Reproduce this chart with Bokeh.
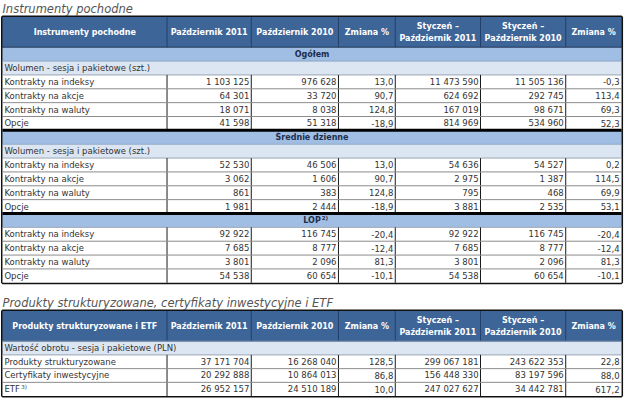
from bokeh.plotting import figure
from bokeh.models import Range1d, ColumnDataSource
from bokeh.core.properties import value
from bokeh.embed import file_html
from bokeh.resources import INLINE

# ---------------- data ----------------
title1 = "Instrumenty pochodne"
title2 = "Produkty strukturyzowane, certyfikaty inwestycyjne i ETF"
col_headers = ["Październik 2011", "Październik 2010", "Zmiana %",
               "Styczeń –\nPaździernik 2011", "Styczeń –\nPaździernik 2010", "Zmiana %"]
first_header1 = "Instrumenty pochodne"
first_header2 = "Produkty strukturyzowane i ETF"

sections = ["Ogółem", "Średnie dzienne", "LOP"]
section_notes = ["", "", "2)"]
sub_volume = "Wolumen - sesja i pakietowe (szt.)"
sub_value = "Wartość obrotu - sesja i pakietowe (PLN)"
instruments = ["Kontrakty na indeksy", "Kontrakty na akcje", "Kontrakty na waluty", "Opcje"]

ogolem_oct2011 = [1103125, 64301, 18071, 41598]
ogolem_oct2010 = [976628, 33720, 8038, 51318]
ogolem_chg = [13.0, 90.7, 124.8, -18.9]
ogolem_ytd2011 = [11473590, 624692, 167019, 814969]
ogolem_ytd2010 = [11505136, 292745, 98671, 534960]
ogolem_ytd_chg = [-0.3, 113.4, 69.3, 52.3]

srednie_oct2011 = [52530, 3062, 861, 1981]
srednie_oct2010 = [46506, 1606, 383, 2444]
srednie_chg = [13.0, 90.7, 124.8, -18.9]
srednie_ytd2011 = [54636, 2975, 795, 3881]
srednie_ytd2010 = [54527, 1387, 468, 2535]
srednie_ytd_chg = [0.2, 114.5, 69.9, 53.1]

lop_oct2011 = [92922, 7685, 3801, 54538]
lop_oct2010 = [116745, 8777, 2096, 60654]
lop_chg = [-20.4, -12.4, 81.3, -10.1]
lop_ytd2011 = [92922, 7685, 3801, 54538]
lop_ytd2010 = [116745, 8777, 2096, 60654]
lop_ytd_chg = [-20.4, -12.4, 81.3, -10.1]

products = ["Produkty strukturyzowane", "Certyfikaty inwestycyjne", "ETF"]
product_notes = ["", "", "3)"]
prod_oct2011 = [37171704, 20292888, 26952157]
prod_oct2010 = [16268040, 10864013, 24510189]
prod_chg = [128.5, 86.8, 10.0]
prod_ytd2011 = [299067181, 156448330, 247027627]
prod_ytd2010 = [243622353, 83197596, 34442781]
prod_ytd_chg = [22.8, 88.0, 617.2]


def fmt_int(v):
    return f"{v:,}".replace(",", " ")


def fmt_pct(v):
    return f"{v:.1f}".replace(".", ",")


def data_rows(labels, notes, a, b, c, d, e, f):
    out = []
    for i, lab in enumerate(labels):
        out.append(("data", lab, notes[i], [fmt_int(a[i]), fmt_int(b[i]), fmt_pct(c[i]),
                                            fmt_int(d[i]), fmt_int(e[i]), fmt_pct(f[i])]))
    return out


no_notes = ["", "", "", ""]
table1_rows = ([("section", sections[0], section_notes[0], None), ("sub", sub_volume, "", None)]
               + data_rows(instruments, no_notes, ogolem_oct2011, ogolem_oct2010, ogolem_chg,
                           ogolem_ytd2011, ogolem_ytd2010, ogolem_ytd_chg)
               + [("section", sections[1], section_notes[1], None), ("sub", sub_volume, "", None)]
               + data_rows(instruments, no_notes, srednie_oct2011, srednie_oct2010, srednie_chg,
                           srednie_ytd2011, srednie_ytd2010, srednie_ytd_chg)
               + [("section", sections[2], section_notes[2], None)]
               + data_rows(instruments, no_notes, lop_oct2011, lop_oct2010, lop_chg,
                           lop_ytd2011, lop_ytd2010, lop_ytd_chg))

table2_rows = ([("sub", sub_value, "", None)]
               + data_rows(products, product_notes, prod_oct2011, prod_oct2010, prod_chg,
                           prod_ytd2011, prod_ytd2010, prod_ytd_chg))

# ---------------- styling / layout ----------------
COL = [4, 172, 258, 347, 405, 492, 579, 636]
HEADER_BG = "#3e6598"
HEADER_SEP = "#22406b"
SECTION_BG = "#a0bee3"
SUB_BG = "#dce6f2"
TEXT = "#333333"
SECTION_TEXT = "#1c2d4d"
FONT = value("DejaVu Sans")
FS = "8.5px"
HFS = "8px"

p = figure(width=624, height=402, x_range=Range1d(2, 639), y_range=Range1d(414, 1),
           output_backend="svg", toolbar_location=None, min_border=0)
p.axis.visible = False
p.grid.visible = False
p.outline_line_color = None
p.background_fill_color = "white"

quads = dict(left=[], right=[], top=[], bottom=[], color=[])
segs = {}
texts = {}


def add_seg(x0, y0, x1, y1, color, width):
    d = segs.setdefault((color, width), dict(x0=[], y0=[], x1=[], y1=[]))
    d["x0"].append(x0); d["y0"].append(y0); d["x1"].append(x1); d["y1"].append(y1)


def add_text(x, y, t, key):
    d = texts.setdefault(key, dict(x=[], y=[], text=[]))
    d["x"].append(x); d["y"].append(y); d["text"].append(t)


def add_quad(l, r, t, b, c):
    quads["left"].append(l); quads["right"].append(r)
    quads["top"].append(t); quads["bottom"].append(b); quads["color"].append(c)


def draw_table(top, header_h, rows, pitch, first_header):
    hb = top + header_h
    bottom = hb + pitch * len(rows)
    add_quad(COL[0], COL[-1], top, hb, HEADER_BG)
    for x in COL[1:-1]:
        add_seg(x, top, x, hb, HEADER_SEP, 1)
    hc = (top + hb) / 2
    add_text((COL[0] + COL[1]) / 2, hc, first_header, "head")
    for j, h in enumerate(col_headers):
        xc = (COL[j + 1] + COL[j + 2]) / 2
        parts = h.split("\n")
        if len(parts) == 1:
            add_text(xc, hc, parts[0], "head")
        else:
            add_text(xc, hc - 6.2, parts[0], "head")
            add_text(xc, hc + 6.2, parts[1], "head")
    add_seg(COL[0], hb, COL[-1], hb, "#1f3558", 1)
    prev = "header"
    for i, (kind, label, note, vals) in enumerate(rows):
        y0 = hb + i * pitch
        y1 = y0 + pitch
        yc = (y0 + y1) / 2
        if kind == "section":
            add_quad(COL[0], COL[-1], y0, y1, SECTION_BG)
            xc = (COL[0] + COL[-1]) / 2
            add_text(xc, yc, label, "section")
            if note:
                add_text(xc + 3.3 * len(label), yc - 2.5, note, "sup_b")
            if prev == "data":
                add_seg(COL[0], y0, COL[-1], y0, "#000000", 3)
        elif kind == "sub":
            add_quad(COL[0], COL[-1], y0, y1, SUB_BG)
            add_text(COL[0] + 2, yc, label, "left")
            add_seg(COL[0], y0, COL[-1], y0, "#8ea6c6", 1)
        else:
            add_quad(COL[0], COL[-1], y0, y1, "#ffffff")
            add_text(COL[0] + 2, yc, label, "left")
            if note:
                add_text(COL[0] + 2.5 + 5.6 * len(label), yc - 2.5, note, "sup")
            for j, v in enumerate(vals):
                add_text(COL[j + 2] - 2, yc, v, "right")
            if prev == "data":
                add_seg(COL[0], y0, COL[-1], y0, "#8c8c8c", 1)
            else:
                add_seg(COL[0], y0, COL[-1], y0, "#9aa6b4", 1)
            for x in COL[1:-1]:
                add_seg(x, y0, x, y1, "#1a1a1a", 1)
        prev = kind
    p.quad(left=[COL[0]], right=[COL[-1]], top=[top], bottom=[bottom],
           fill_alpha=0, line_color="#111111", line_width=3)


draw_table(18, 31, table1_rows, (291 - 49) / 17, first_header1)
draw_table(320, 31, table2_rows, 14.1, first_header2)

p.quad(source=ColumnDataSource(quads), left="left", right="right", top="top",
       bottom="bottom", fill_color="color", line_color=None)
for (c, w), d in segs.items():
    p.segment(source=ColumnDataSource(d), x0="x0", y0="y0", x1="x1", y1="y1",
              line_color=c, line_width=w)

styles = {
    "head": dict(text_color="white", text_font_style="bold", text_align="center", text_font_size=HFS),
    "section": dict(text_color=SECTION_TEXT, text_font_style="bold", text_align="center", text_font_size=HFS),
    "sup_b": dict(text_color=SECTION_TEXT, text_font_style="bold", text_align="left", text_font_size="5.5px"),
    "sup": dict(text_color=TEXT, text_font_style="normal", text_align="left", text_font_size="5.5px"),
    "left": dict(text_color=TEXT, text_font_style="normal", text_align="left", text_font_size=FS),
    "right": dict(text_color=TEXT, text_font_style="normal", text_align="right", text_font_size=FS),
}
for key, d in texts.items():
    p.text(source=ColumnDataSource(d), x="x", y="y", text="text", text_font=FONT,
           text_baseline="middle", **styles[key])

p.text(x=[4, 4], y=[10, 312], text=[title1, title2], text_font=FONT,
       text_font_size="11.5px", text_font_style="italic", text_color="#555555",
       text_baseline="middle", text_align="left")

open("out.html", "w").write(file_html(p, INLINE))
